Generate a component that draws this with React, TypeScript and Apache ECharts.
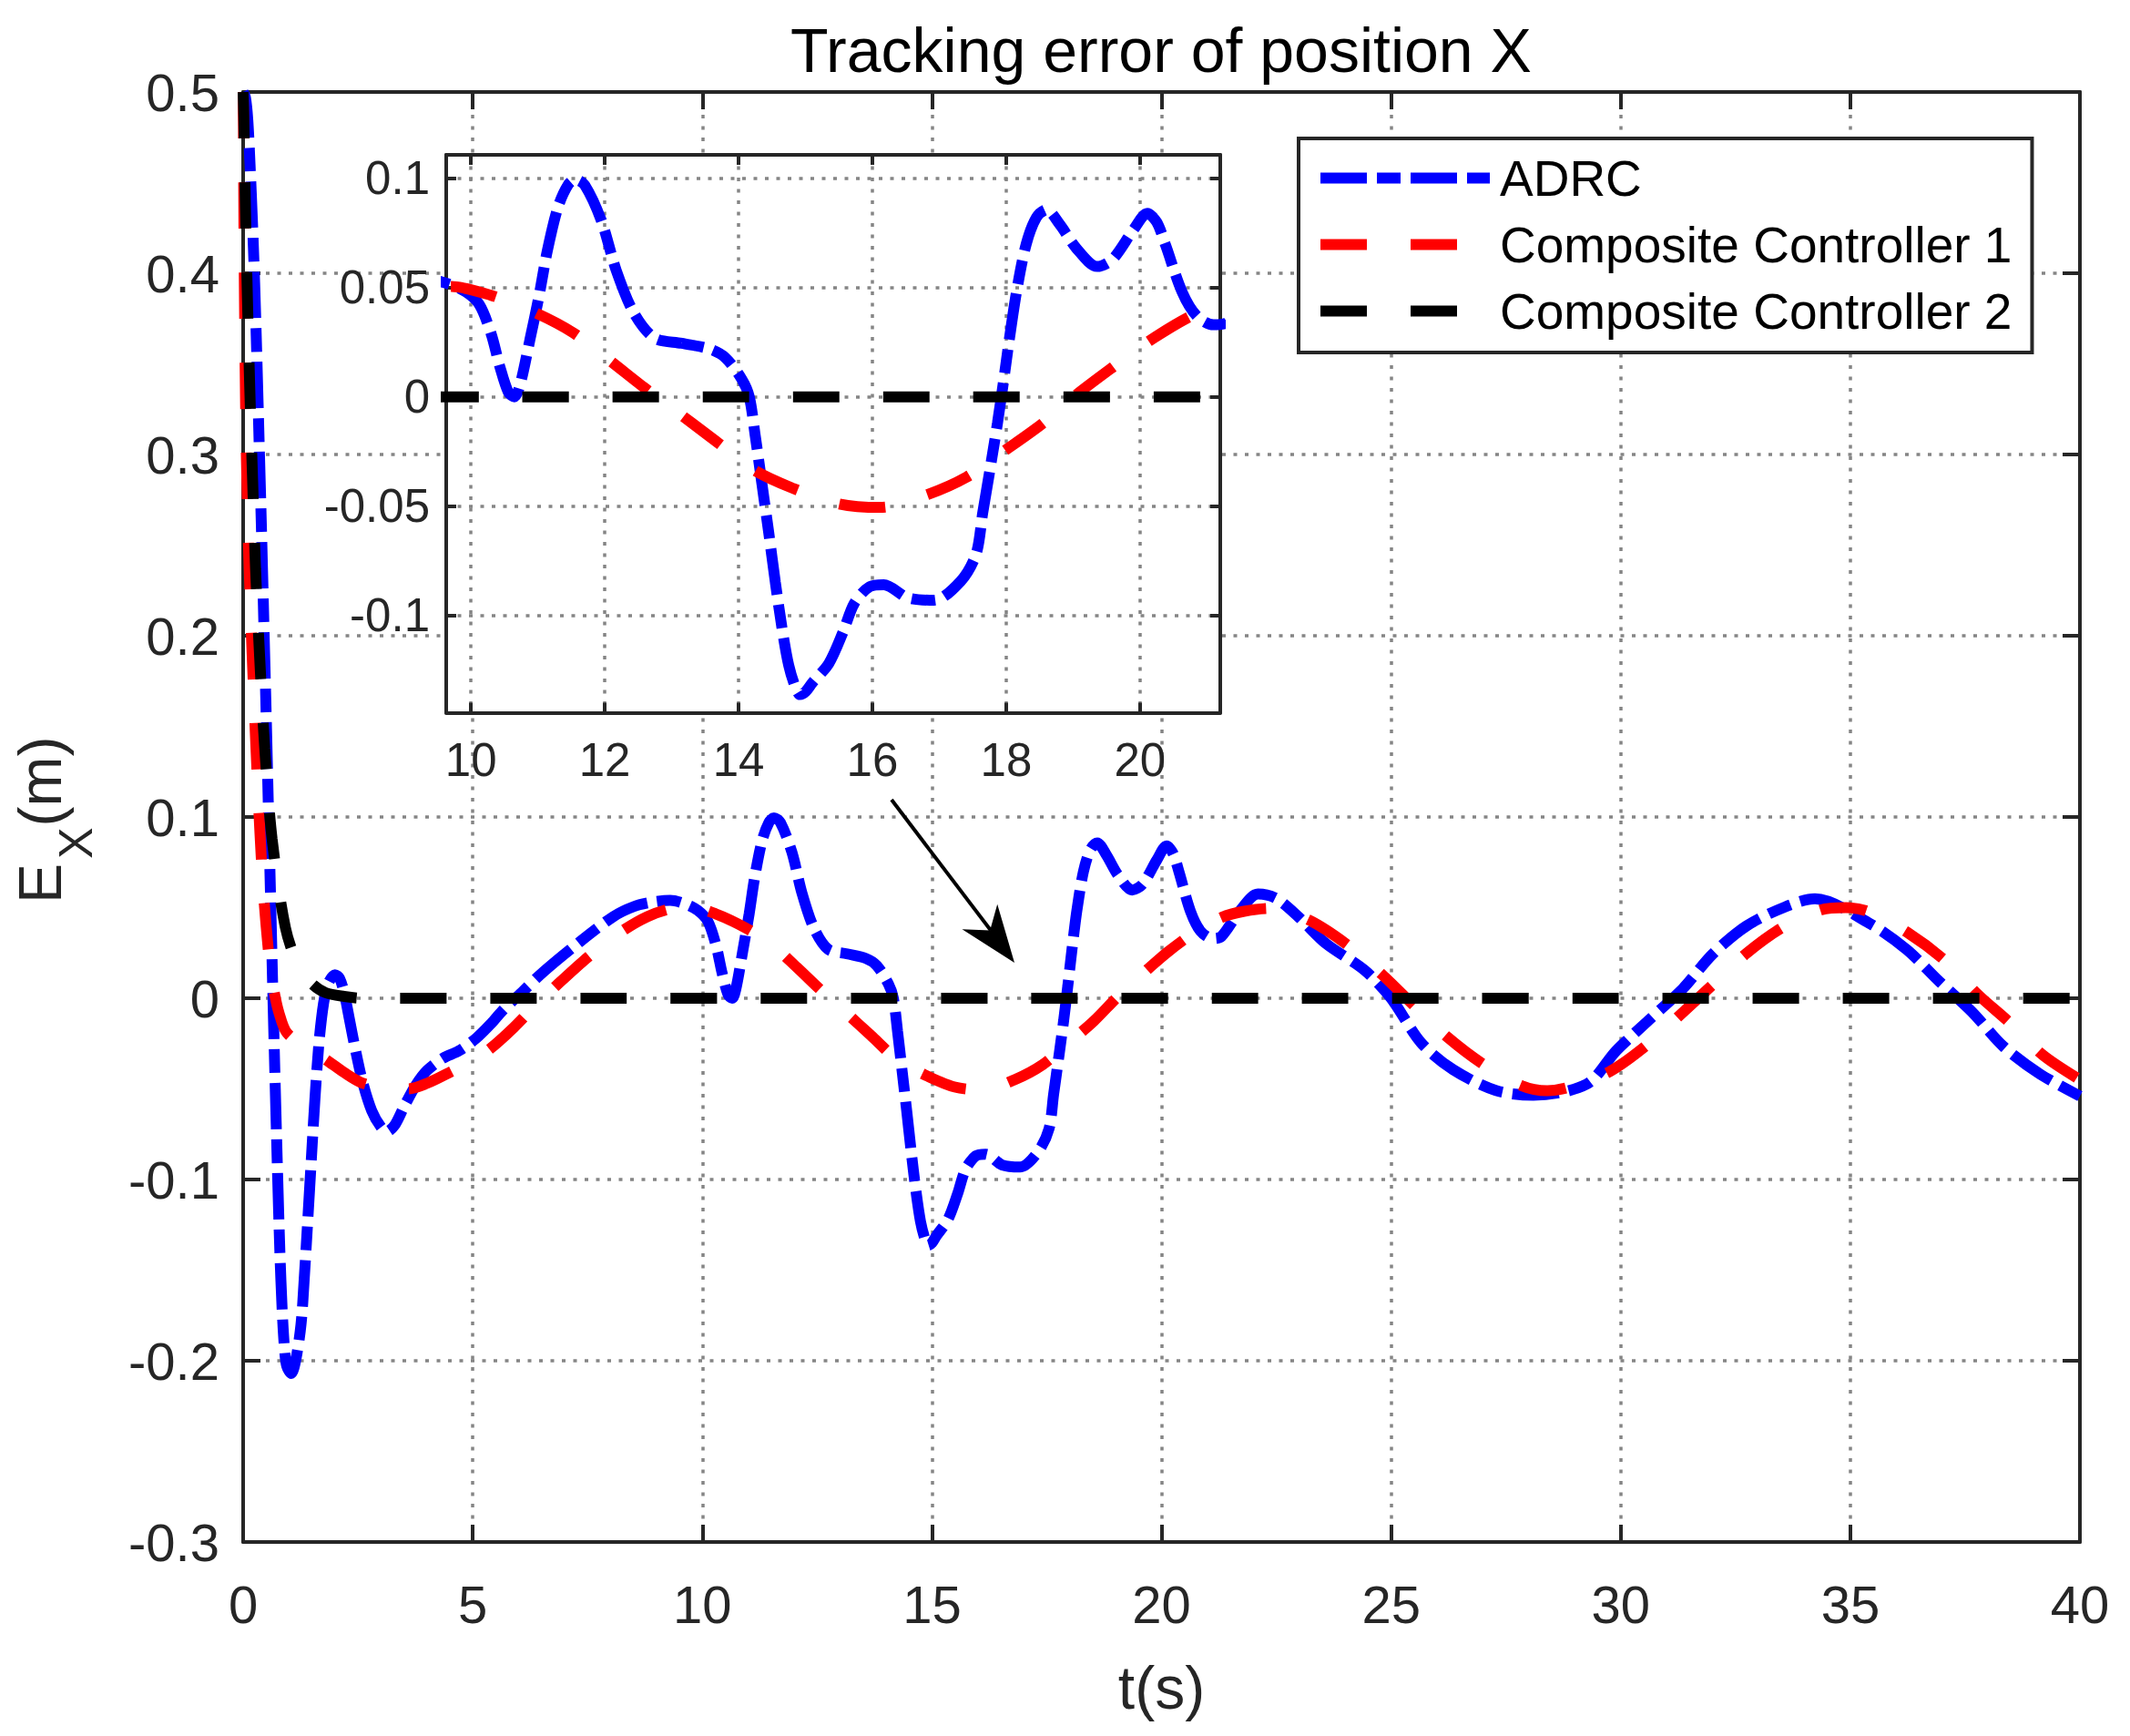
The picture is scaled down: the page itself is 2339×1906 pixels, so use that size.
import React, { useEffect, useRef } from "react";
import * as echarts from "echarts";

// ---------------- data ----------------
const seriesNames = ["ADRC", "Composite Controller 1", "Composite Controller 2"];

const adrcT = [
  0, 0.05, 0.1, 0.15, 0.2, 0.25, 0.3, 0.35, 0.4, 0.45, 0.5, 0.55, 0.6, 0.65, 0.7, 0.75, 0.8, 0.85, 0.9, 0.95,
  1.05, 1.15, 1.26, 1.33, 1.45, 1.56, 1.65, 1.75, 1.85, 2.0, 2.1, 2.2, 2.31, 2.45, 2.6, 2.8, 3.0, 3.13, 3.3, 3.5,
  3.76, 4.0, 4.36, 4.7, 5.08, 5.4, 5.65, 6.1, 6.54, 7.26, 8.06, 8.5, 8.9, 9.3, 9.63, 9.9, 10.12, 10.3, 10.43, 10.56,
  10.65, 10.73, 10.88, 11.02, 11.14, 11.3, 11.45, 11.56, 11.7, 11.95, 12.17, 12.43, 12.74, 13.15, 13.56, 13.8, 14.05, 14.16, 14.25, 14.35,
  14.45, 14.55, 14.65, 14.75, 14.85, 14.92, 15.0, 15.1, 15.35, 15.56, 15.73, 15.96, 16.17, 16.53, 16.92, 17.32, 17.55, 17.65, 17.77, 17.87,
  17.96, 18.05, 18.16, 18.3, 18.45, 18.6, 18.8, 19.05, 19.36, 19.59, 19.9, 20.11, 20.25, 20.38, 20.63, 20.85, 21.1, 21.3, 21.7, 22.1,
  22.5, 23.0, 23.58, 24.42, 25.0, 25.65, 26.35, 27.28, 28.1, 29.26, 29.9, 30.61, 31.36, 32.0, 32.74, 33.58, 34.23, 35.45, 36.23, 36.94,
  37.65, 38.33, 39.13, 40,
];
const adrcV = [
  0.5, 0.497, 0.485, 0.46, 0.43, 0.395, 0.352, 0.305, 0.258, 0.208, 0.158, 0.105, 0.053, 0.0, -0.05, -0.097, -0.14, -0.172, -0.193, -0.203,
  -0.207, -0.199, -0.18, -0.155, -0.104, -0.057, -0.025, -0.003, 0.008, 0.013, 0.011, 0.003, -0.011, -0.029, -0.046, -0.062, -0.071, -0.0735, -0.07, -0.06,
  -0.048, -0.04, -0.033, -0.029, -0.022, -0.014, -0.0068, 0.004, 0.0146, 0.0297, 0.045, 0.0505, 0.053, 0.054, 0.052, 0.0485, 0.0425, 0.029, 0.014, 0.002,
  0.0, 0.005, 0.026, 0.0466, 0.0667, 0.0868, 0.097, 0.0995, 0.097, 0.0806, 0.058, 0.0387, 0.027, 0.0245, 0.022, 0.018, 0.008, 0.0, -0.018, -0.04,
  -0.062, -0.085, -0.106, -0.123, -0.133, -0.1363, -0.135, -0.131, -0.122, -0.1078, -0.0945, -0.0869, -0.086, -0.092, -0.0931, -0.0844, -0.072, -0.053, -0.031, -0.012,
  0.007, 0.027, 0.049, 0.07, 0.082, 0.0857, 0.079, 0.068, 0.0597, 0.063, 0.0764, 0.084, 0.08, 0.0697, 0.048, 0.037, 0.033, 0.034, 0.048, 0.0575,
  0.055, 0.0445, 0.0302, 0.0155, 0.0, -0.0245, -0.0394, -0.0509, -0.0535, -0.0474, -0.029, -0.0121, 0.0055, 0.0243, 0.0399, 0.0504, 0.0549, 0.0408, 0.0268, 0.0092,
  -0.0075, -0.0265, -0.0418, -0.054,
];

const cc1T = [
  0, 0.006, 0.016, 0.03, 0.055, 0.09, 0.16, 0.235, 0.32, 0.42, 0.5, 0.59, 0.68, 0.78, 0.95, 1.38, 1.81, 2.2, 2.57, 3.08,
  3.6, 4.0, 4.49, 4.93, 5.37, 5.9, 6.4, 6.82, 7.43, 7.87, 8.31, 8.8, 9.25, 9.7, 10.29, 10.95, 11.52, 12.06, 12.6, 13.13,
  13.67, 14.22, 14.8, 15.5, 16.12, 16.8, 17.41, 17.96, 18.53, 19.05, 19.59, 20.11, 20.7, 21.32, 21.8, 22.35, 23.19, 24.03, 24.8, 25.52,
  26.22, 27.0, 27.84, 28.4, 28.87, 29.77, 30.61, 31.32, 32.03, 32.74, 33.52, 34.36, 34.9, 35.39, 36.29, 37.07, 37.78, 38.49, 39.2, 40,
];
const cc1V = [
  0.5, 0.484, 0.433, 0.384, 0.324, 0.275, 0.215, 0.165, 0.115, 0.0665, 0.04, 0.017, 0.003, -0.008, -0.019, -0.027, -0.034, -0.041, -0.0465, -0.0495,
  -0.05, -0.047, -0.041, -0.035, -0.028, -0.016, -0.003, 0.007, 0.021, 0.03, 0.038, 0.045, 0.049, 0.0505, 0.0466, 0.0387, 0.0295, 0.017, 0.004, -0.008,
  -0.0205, -0.0333, -0.0417, -0.049, -0.0506, -0.045, -0.0367, -0.025, -0.0125, 0.001, 0.0135, 0.025, 0.036, 0.0447, 0.048, 0.0496, 0.0434, 0.0298, 0.0131, -0.0046,
  -0.0213, -0.0363, -0.0482, -0.051, -0.0491, -0.0403, -0.025, -0.0086, 0.0081, 0.0248, 0.039, 0.0487, 0.05, 0.0478, 0.0355, 0.0206, 0.002, -0.0139, -0.0315, -0.045,
];

const cc2T = [0, 0.015, 0.05, 0.093, 0.145, 0.205, 0.27, 0.36, 0.47, 0.63, 0.92, 1.2, 1.5, 1.8, 2.2, 2.6, 40];
const cc2V = [0.5, 0.486, 0.436, 0.386, 0.336, 0.287, 0.237, 0.188, 0.138, 0.088, 0.039, 0.018, 0.008, 0.003, 0.001, 0, 0];

// axis ranges
const mainX = { min: 0, max: 40, interval: 5 };
const mainY = { min: -0.3, max: 0.5, interval: 0.1 };
const insetX = { min: 9.63, max: 21.2, step: 2 };
const insetY = { min: -0.1446, max: 0.1108, step: 0.05 };

// ---------------- styles ----------------
const FONT = "'Liberation Sans', Arial, Helvetica, sans-serif";
const AXIS_COLOR = "#262626";
const GRID_COLOR = "#858585";
const COLORS = ["#0000FF", "#FF0000", "#000000"];
const DASHES = [
  [51, 11, 26, 11],
  [51, 48],
  [51, 48],
];
const LINE_W = 12;

function pairs(t: number[], v: number[]) {
  return t.map((x, i) => [x, v[i]]);
}

function axis(opts: any) {
  const { gridIndex, position, range, tickLen, label, labelSize, labelMargin, split, z, extra } = opts;
  const a: any = {
    type: "value",
    gridIndex,
    position,
    min: range.min,
    max: range.max,
    z,
    axisLine: { show: true, onZero: false, lineStyle: { color: AXIS_COLOR, width: 4 } },
    axisTick: { show: true, inside: true, length: tickLen, lineStyle: { color: AXIS_COLOR, width: 4 } },
    axisLabel: label
      ? { show: true, fontSize: labelSize, margin: labelMargin, color: AXIS_COLOR, fontFamily: FONT }
      : { show: false },
    splitLine: split
      ? { show: true, lineStyle: { color: GRID_COLOR, width: 3.5, type: [4, 8.5] } }
      : { show: false },
    ...extra,
  };
  if (range.interval != null) a.interval = range.interval;
  if (range.step != null) {
    a.minInterval = range.step;
    a.maxInterval = range.step;
  }
  return a;
}

export default function App() {
  const ref = useRef<HTMLDivElement>(null);

  useEffect(() => {
    document.body.style.margin = "0";
    const chart = echarts.init(ref.current!, null, { renderer: "svg", width: 2339, height: 1906 });

    const makeSeries = (axisIndex: number, z: number) =>
      seriesNames.map((name, i) => ({
        name,
        type: "line",
        xAxisIndex: axisIndex,
        yAxisIndex: axisIndex,
        data: pairs([adrcT, cc1T, cc2T][i], [adrcV, cc1V, cc2V][i]),
        showSymbol: false,
        symbol: "none",
        smooth: 0.3,
        z,
        lineStyle: { color: COLORS[i], width: LINE_W, type: DASHES[i], cap: "butt" },
        itemStyle: { color: COLORS[i] },
        emphasis: { disabled: true },
      }));

    const labelFont = { color: AXIS_COLOR, fontFamily: FONT };

    const option: any = {
      animation: false,
      backgroundColor: "#ffffff",
      textStyle: { fontFamily: FONT },
      title: {
        text: "Tracking error of position X",
        left: 1270,
        top: 16,
        textAlign: "center",
        textVerticalAlign: "top",
        textStyle: { fontSize: 68, fontWeight: "normal", color: "#000000", fontFamily: FONT },
      },
      grid: [
        { left: 267, top: 101, width: 2017, height: 1592, show: false, containLabel: false },
        {
          left: 490, top: 170, width: 850, height: 612.5, show: true, backgroundColor: "#ffffff",
          borderWidth: 0, z: 5, containLabel: false,
        },
      ],
      xAxis: [
        axis({
          gridIndex: 0, position: "bottom", range: mainX, tickLen: 19, label: true, labelSize: 58,
          labelMargin: 39, split: true, z: 0,
          extra: {
            name: "t(s)", nameLocation: "middle", nameGap: 127,
            nameTextStyle: { fontSize: 66, ...labelFont },
          },
        }),
        axis({ gridIndex: 0, position: "top", range: mainX, tickLen: 19, label: false, split: false, z: 0 }),
        axis({
          gridIndex: 1, position: "bottom", range: insetX, tickLen: 11, label: true, split: true, z: 6,
          extra: { axisLabel: { show: true, fontSize: 51, margin: 26, ...labelFont, showMinLabel: false, showMaxLabel: false } },
        }),
        axis({ gridIndex: 1, position: "top", range: insetX, tickLen: 11, label: false, split: false, z: 6 }),
      ],
      yAxis: [
        axis({ gridIndex: 0, position: "left", range: mainY, tickLen: 19, label: true, labelSize: 58, labelMargin: 26, split: true, z: 0 }),
        axis({ gridIndex: 0, position: "right", range: mainY, tickLen: 19, label: false, split: false, z: 0 }),
        axis({
          gridIndex: 1, position: "left", range: insetY, tickLen: 11, label: true, split: true, z: 6,
          extra: { axisLabel: { show: true, fontSize: 51, margin: 18, ...labelFont, showMinLabel: false, showMaxLabel: false } },
        }),
        axis({ gridIndex: 1, position: "right", range: insetY, tickLen: 11, label: false, split: false, z: 6 }),
      ],
      legend: {
        data: seriesNames.map((name, i) => ({
          name,
          lineStyle: { color: COLORS[i], width: LINE_W, type: DASHES[i], cap: "butt" },
          itemStyle: { color: "rgba(0,0,0,0)", borderColor: "rgba(0,0,0,0)", borderWidth: 0, opacity: 0 },
        })),
        orient: "vertical",
        left: 1426,
        top: 152,
        padding: [16, 22, 18, 18],
        itemWidth: 186,
        itemHeight: 12,
        itemGap: 18,
        backgroundColor: "#ffffff",
        borderColor: AXIS_COLOR,
        borderWidth: 4,
        borderRadius: 0,
        selectedMode: false,
        z: 20,
        textStyle: { fontSize: 55, color: "#000000", fontFamily: FONT, lineHeight: 55, padding: [0, 0, 0, 6] },
      },
      graphic: [
        {
          type: "line",
          z: 20,
          shape: { x1: 979, y1: 878, x2: 1088, y2: 1021.5 },
          style: { stroke: "#000000", lineWidth: 4 },
        },
        {
          type: "polygon",
          z: 20,
          shape: { points: [[1114, 1057], [1056.5, 1020.2], [1087.2, 1021.4], [1095.2, 992.7]] },
          style: { fill: "#000000" },
        },
        {
          type: "group",
          x: 0,
          y: 992,
          rotation: Math.PI / 2,
          z: 20,
          children: [
            { type: "text", x: 0, y: 44, style: { text: "E", fontSize: 66, fontFamily: FONT, fill: AXIS_COLOR, align: "left", verticalAlign: "middle" } },
            { type: "text", x: 49, y: 83, style: { text: "X", fontSize: 52, fontFamily: FONT, fill: AXIS_COLOR, align: "left", verticalAlign: "middle" } },
            { type: "text", x: 84.5, y: 44, style: { text: "(m)", fontSize: 66, fontFamily: FONT, fill: AXIS_COLOR, align: "left", verticalAlign: "middle" } },
          ],
        },
      ],
      series: [...makeSeries(0, 2), ...makeSeries(2, 7)],
    };

    chart.setOption(option);
    return () => chart.dispose();
  }, []);

  return (
    <div
      ref={ref}
      style={{ position: "absolute", left: 0, top: 0, width: 2339, height: 1906, background: "#ffffff" }}
    />
  );
}
